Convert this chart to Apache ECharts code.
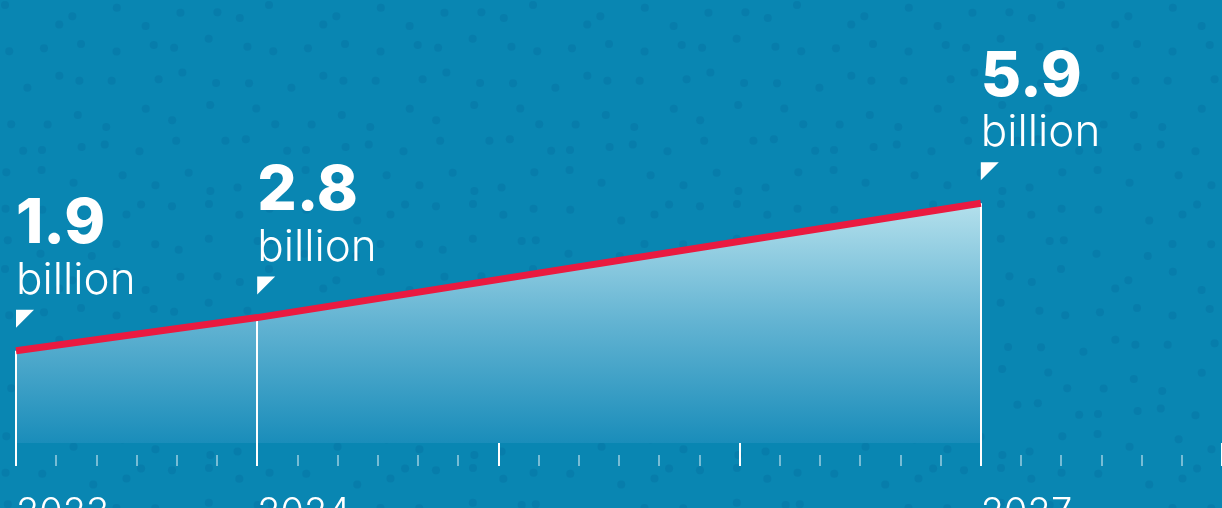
<!DOCTYPE html>
<html>
<head>
<meta charset="utf-8">
<script src="https://cdn.jsdelivr.net/npm/echarts@6/dist/echarts.min.js"></script>
<style>
html,body{margin:0;padding:0;background:#0986b2;}
#c{width:1222px;height:508px;}
</style>
</head>
<body>
<div id="c"></div>
<script>
// ---- data ----
const years = [2023, 2024, 2027];
const values = [1.9, 2.8, 5.9];
const valueLabels = ['1.9', '2.8', '5.9'];
const unitLabel = 'billion';
const tickYears = [2023, 2024, 2025, 2026, 2027, 2028];
const labeledYears = ['2023', '2024', '2027'];

const yMin = -0.6, yMax = 10;
const points = years.map((y, i) => [y, values[i]]);

// decorative dotted background tile (deterministic jittered grid)
function dotTile() {
  const size = 264, step = 33;
  const cv = document.createElement('canvas');
  cv.width = size; cv.height = size;
  const ctx = cv.getContext('2d');
  ctx.fillStyle = '#0986b2';
  ctx.fillRect(0, 0, size, size);
  ctx.fillStyle = 'rgba(0,70,120,0.13)';
  for (let gy = 0; gy < size / step; gy++) {
    for (let gx = 0; gx < size / step; gx++) {
      const h1 = Math.abs(Math.sin(gx * 12.9898 + gy * 78.233) * 43758.5453) % 1;
      const h2 = Math.abs(Math.sin(gx * 39.3468 + gy * 11.135) * 24634.6345) % 1;
      const x = gx * step + h1 * (step - 10) + 5;
      const y = gy * step + h2 * (step - 10) + 5;
      ctx.beginPath();
      ctx.arc(x, y, 4, 0, Math.PI * 2);
      ctx.fill();
    }
  }
  return cv;
}

const chart = echarts.init(document.getElementById('c'), null, {renderer: 'canvas'});
const font = 'Inter, Lato, sans-serif';
const xMin = tickYears[0], xMax = tickYears[tickYears.length - 1];

chart.setOption({
  backgroundColor: {image: dotTile(), repeat: 'repeat'},
  animation: false,
  grid: [
    {left: 16, right: 0, top: 52, bottom: 65, outerBoundsMode: 'none', containLabel: false},
    {left: 16, right: 0, top: 443, bottom: 42, outerBoundsMode: 'none', containLabel: false}
  ],
  xAxis: [
    {
      gridIndex: 0, type: 'value', min: xMin, max: xMax, interval: 1, show: false,
      splitLine: {show: false}
    },
    {
      gridIndex: 1, type: 'value', min: xMin, max: xMax, interval: 1,
      position: 'bottom',
      axisLine: {show: false},
      axisTick: {show: true, inside: true, length: 23, lineStyle: {color: '#ffffff', width: 2}},
      minorTick: {show: true, splitNumber: 6, length: 11, lineStyle: {color: 'rgba(255,255,255,0.45)', width: 2}},
      splitLine: {show: false},
      minorSplitLine: {show: false},
      axisLabel: {
        show: true, margin: 29, align: 'left', color: '#ffffff',
        fontFamily: font, fontWeight: 300, fontSize: 38,
        formatter: v => labeledYears.indexOf(String(v)) >= 0 ? String(v) : ''
      }
    }
  ],
  yAxis: [
    {gridIndex: 0, type: 'value', min: yMin, max: yMax, show: false, splitLine: {show: false}},
    {gridIndex: 1, type: 'value', min: 0, max: 1, show: false, splitLine: {show: false}}
  ],
  series: [
    {
      type: 'line', z: 1, data: points, showSymbol: false, symbol: 'none',
      lineStyle: {width: 0, opacity: 0},
      areaStyle: {
        origin: 'start',
        color: new echarts.graphic.LinearGradient(0, 0, 0, 1, [
          {offset: 0, color: '#b4e0ec'},
          {offset: 0.5, color: '#62b3d2'},
          {offset: 1, color: '#1a8dba'}
        ]),
        opacity: 1
      },
      silent: true
    },
    {
      type: 'line', z: 3, data: points, showSymbol: false, symbol: 'none',
      lineStyle: {color: '#ea1a40', width: 7, cap: 'butt'},
      silent: true,
      markLine: {
        z: 2, silent: true, symbol: 'none', animation: false,
        label: {show: false},
        lineStyle: {color: '#ffffff', width: 2, type: 'solid'},
        data: points.map(p => [{coord: [p[0], p[1]]}, {coord: [p[0], yMin]}])
      }
    },
    {
      type: 'scatter', z: 4, data: points,
      symbol: 'path://M0,0 L18,0 L0,18 Z', symbolSize: [18, 18], symbolKeepAspect: true,
      symbolOffset: [9, -32],
      itemStyle: {color: '#ffffff', opacity: 1},
      silent: true,
      label: {
        show: true, position: 'top', distance: 5, align: 'left', offset: [-9, 0],
        color: '#ffffff',
        formatter: p => '{v|' + valueLabels[p.dataIndex] + '}\n{u|' + unitLabel + '}',
        rich: {
          v: {fontFamily: font, fontWeight: 800, fontSize: 62, lineHeight: 64, color: '#fff'},
          u: {fontFamily: font, fontWeight: 300, fontSize: 44, lineHeight: 48, color: '#fff'}
        }
      }
    }
  ]
});
</script>
</body>
</html>
